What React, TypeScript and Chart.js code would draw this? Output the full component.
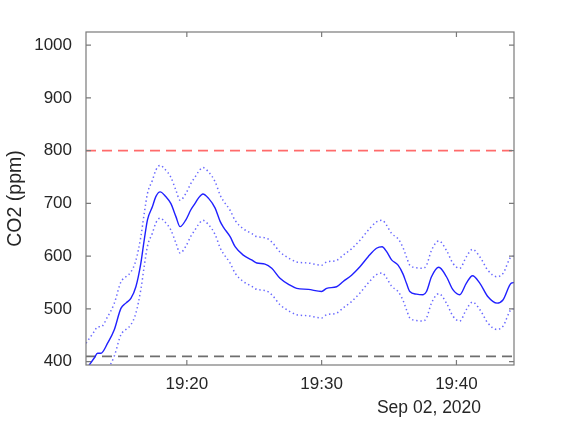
import React, { useEffect, useRef } from "react";
import { Chart, registerables } from "chart.js";
Chart.register(...registerables);

// minutes after 19:00 on Sep 02, 2020
const timeMinutes = [
  12.52, 13.13, 13.38, 13.63, 14.12, 14.61, 15.11, 15.48, 15.85, 16.22, 16.59, 16.84,
  17.08, 17.45, 17.7, 18.02, 18.44, 18.81, 19.19, 19.5, 19.93, 20.3, 20.61, 20.86,
  21.19, 21.6, 22.1, 22.47, 22.71, 23.21, 23.58, 24.19, 24.81, 25.19, 25.8, 26.3,
  26.91, 27.65, 28.15, 29.01, 30.0, 30.37, 31.11, 31.6, 32.22, 32.84, 33.45, 34.07,
  34.49, 34.81, 35.19, 35.67, 36.04, 36.3, 36.54, 37.04, 37.53, 37.78, 38.15, 38.69,
  39.26, 39.75, 40.24, 40.74, 41.19, 41.73, 42.34, 43.01, 43.45, 44.07, 44.27,
];
const co2Mean = [
  385, 407, 416, 416, 435, 460, 501, 511, 520, 542, 587, 631,
  669, 694, 713, 722, 713, 700, 675, 656, 669, 688, 700, 710,
  718, 710, 691, 666, 655, 637, 618, 602, 593, 587, 585, 577,
  558, 545, 539, 537, 533, 539, 542, 552, 564, 580, 599, 615,
  618, 609, 593, 583, 566, 548, 533, 528, 527, 533, 561, 579,
  561, 536, 527, 549, 563, 549, 523, 511, 517, 549, 550,
];
const co2Upper = [
  435, 457, 466, 466, 485, 510, 551, 561, 570, 592, 637, 681,
  719, 744, 763, 772, 763, 750, 725, 706, 719, 738, 750, 760,
  768, 760, 741, 716, 705, 687, 668, 652, 643, 637, 635, 627,
  608, 595, 589, 587, 583, 589, 592, 602, 614, 630, 649, 665,
  668, 659, 643, 633, 616, 598, 583, 578, 577, 583, 611, 629,
  611, 586, 577, 599, 613, 599, 573, 561, 567, 599, 600,
];
const co2Lower = [
  335, 357, 366, 366, 385, 410, 451, 461, 470, 492, 537, 581,
  619, 644, 663, 672, 663, 650, 625, 606, 619, 638, 650, 660,
  668, 660, 641, 616, 605, 587, 568, 552, 543, 537, 535, 527,
  508, 495, 489, 487, 483, 489, 492, 502, 514, 530, 549, 565,
  568, 559, 543, 533, 516, 498, 483, 478, 477, 483, 511, 529,
  511, 486, 477, 499, 513, 499, 473, 461, 467, 499, 500,
];

const yTickValues = [400, 500, 600, 700, 800, 900, 1000];
const xTickValues = [20, 30, 40];
const xTickLabels = ["19:20", "19:30", "19:40"];
const dateLabel = "Sep 02, 2020";
const yTitle = "CO2 (ppm)";
const limitHigh = 800;
const limitLow = 410;
const xMin = 12.52;
const xMax = 44.27;
const yMin = 393.7;
const yMax = 1025;

const FONT = "'Liberation Sans', Arial, Helvetica, sans-serif";
const TEXT = "#262626";
const FRAME = "#7a7a7a";

export default function App() {
  const ref = useRef<HTMLCanvasElement | null>(null);

  useEffect(() => {
    document.body.style.margin = "0";
    const canvas = ref.current;
    if (!canvas) return;

    const toXY = (ys: number[]) => timeMinutes.map((t, i) => ({ x: t, y: ys[i] }));

    const framePlugin = {
      id: "frame",
      afterDraw(chart: any) {
        const { ctx, chartArea } = chart;
        const { left, right, top, bottom } = chartArea;
        const xs = chart.scales.x;
        const ys = chart.scales.y;
        ctx.save();
        ctx.strokeStyle = FRAME;
        ctx.lineWidth = 1.2;
        ctx.strokeRect(left, top, right - left, bottom - top);
        const tl = 5;
        ctx.beginPath();
        for (const v of yTickValues) {
          const py = ys.getPixelForValue(v);
          ctx.moveTo(left, py);
          ctx.lineTo(left + tl, py);
          ctx.moveTo(right, py);
          ctx.lineTo(right - tl, py);
        }
        for (const v of xTickValues) {
          const px = xs.getPixelForValue(v);
          ctx.moveTo(px, bottom);
          ctx.lineTo(px, bottom - tl);
          ctx.moveTo(px, top);
          ctx.lineTo(px, top + tl);
        }
        ctx.stroke();

        ctx.fillStyle = TEXT;
        ctx.font = `17.5px ${FONT}`;
        ctx.textAlign = "center";
        ctx.textBaseline = "middle";
        ctx.fillText(dateLabel, right - 85, 408);

        ctx.translate(16, (top + bottom) / 2);
        ctx.rotate(-Math.PI / 2);
        ctx.font = `19.5px ${FONT}`;
        ctx.fillText(yTitle, 0, 0);
        ctx.restore();
      },
    };

    const chart = new Chart(canvas, {
      type: "line",
      data: {
        datasets: [
          {
            data: toXY(co2Mean),
            borderColor: "#2020ff",
            borderWidth: 1.4,
            pointRadius: 0,
            tension: 0.3,
            cubicInterpolationMode: "monotone",
            clip: 0,
          },
          {
            data: toXY(co2Upper),
            borderColor: "rgba(40,40,255,0.7)",
            borderWidth: 1.5,
            borderDash: [1.4, 2.8],
            pointRadius: 0,
            cubicInterpolationMode: "monotone",
            clip: 0,
          },
          {
            data: toXY(co2Lower),
            borderColor: "rgba(40,40,255,0.7)",
            borderWidth: 1.5,
            borderDash: [1.4, 2.8],
            pointRadius: 0,
            cubicInterpolationMode: "monotone",
            clip: 0,
          },
          {
            data: [
              { x: xMin, y: limitHigh },
              { x: xMax, y: limitHigh },
            ],
            borderColor: "rgba(255,70,70,0.8)",
            borderWidth: 1.8,
            borderDash: [10, 6],
            pointRadius: 0,
            clip: 0,
          },
          {
            data: [
              { x: xMin, y: limitLow },
              { x: xMax, y: limitLow },
            ],
            borderColor: "#6e6e6e",
            borderWidth: 1.8,
            borderDash: [10, 6],
            pointRadius: 0,
            clip: 0,
          },
        ],
      },
      options: {
        animation: false,
        responsive: false,
        devicePixelRatio: 1,
        layout: { padding: { left: 0, top: 32, right: 59, bottom: 0 } },
        plugins: { legend: { display: false }, tooltip: { enabled: false } },
        scales: {
          x: {
            type: "linear",
            min: xMin,
            max: xMax,
            grid: { display: false, drawTicks: false },
            border: { display: false },
            afterFit: (s: any) => {
              s.height = 58;
            },
            afterBuildTicks: (s: any) => {
              s.ticks = xTickValues.map((v) => ({ value: v }));
            },
            ticks: {
              padding: 9,
              color: TEXT,
              font: { family: FONT, size: 17 },
              maxRotation: 0,
              callback: (v: any) => {
                const i = xTickValues.indexOf(Number(v));
                return i >= 0 ? xTickLabels[i] : "";
              },
            },
          },
          y: {
            type: "linear",
            min: yMin,
            max: yMax,
            grid: { display: false, drawTicks: false },
            border: { display: false },
            afterFit: (s: any) => {
              s.width = 86;
            },
            afterBuildTicks: (s: any) => {
              s.ticks = yTickValues.map((v) => ({ value: v }));
            },
            ticks: {
              padding: 14,
              color: TEXT,
              font: { family: FONT, size: 17 },
              callback: (v: any) => String(v),
            },
          },
        },
      },
      plugins: [framePlugin],
    } as any);

    return () => chart.destroy();
  }, []);

  return (
    <div style={{ width: 573, height: 423, background: "#fff" }}>
      <canvas ref={ref} width={573} height={423} style={{ display: "block" }} />
    </div>
  );
}
